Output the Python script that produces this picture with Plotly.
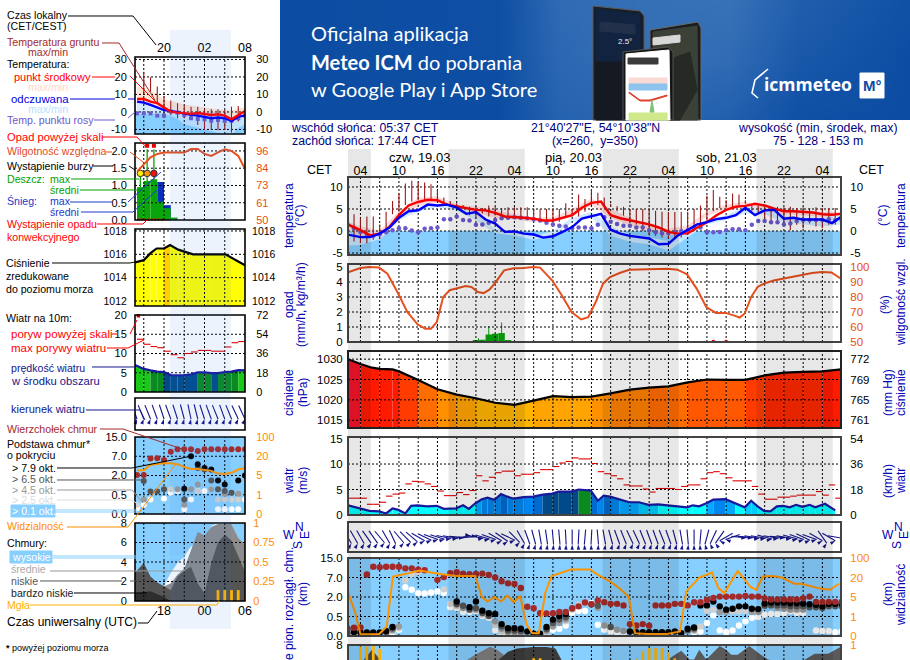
import plotly.graph_objects as go

W, H = 910, 660
FONT = "Liberation Sans"

# ------------------------ DATA: main meteogram (hours from 19.03 00:00 CET) ----------------
NIGHT = [(2.05, 5.62), (17.73, 29.62), (41.73, 53.62), (65.73, 77.62)]
HOUR_LABELS = ["04", "10", "16", "22", "04", "10", "16", "22", "04", "10", "16", "22", "04"]
HOUR_TICKS = [4, 10, 16, 22, 28, 34, 40, 46, 52, 58, 64, 70, 76]
GRID_HOURS = [4 + 3 * i for i in range(25)]

T_HOURS = [2.0] + [4 + 1.5 * i for i in range(51)]
TEMP_MID = [1.5, .2, -1, -.6, .9, 3.6, 5.8, 6.6, 7.1, 7.0, 6, 5.6, 5.3, 4.8, 4.7, 4.1, 3.3, 3.2, 3, 2.8, 2.4, 2.4,
            3, 3.6, 5.3, 6.4, 6.7, 3.6, 2.9, 2.4, 2, 1.5, .8, -.2, -.6, -.5, .8, 2, 3.6, 4.8, 5.5, 5.7, 6.2, 5.8,
            5.1, 4.5, 4.5, 4.4, 4.2, 3.8, 3.7, 3.9]
TEMP_FEEL = [-.8, -1.4, -1.4, -.6, .8, 3, 4.5, 4.7, 6, 5.8, 6, 5.3, 3.9, 4.3, 2.6, 1.7, -.2, -.1, -.6, -.8, -1.5, -1.2,
             -.2, .9, 2.8, 3.4, 3.9, .3, -.6, -1.1, -1.4, -1.7, -3, -2.9, -1, .2, 1.5, 2, 2.7, 3, 3.6, 5.3, 3.6,
             4.7, 4.8, 2.8, 3, 2.6, 2.6, 2.6, 1.8, 3.3]
B_HOURS = [2, 4, 7, 10, 13, 16, 19, 22, 25, 28, 31, 34, 37, 40, 43, 46, 49, 52, 55, 58, 61, 64, 67, 70, 73, 76, 79]
RED_MAX = [2.2, 1, .2, 4.5, 7.6, 7.9, 6, 5.5, 4.8, 3.8, 3, 3.1, 5, 7.4, 5, 3, 1.5, .5, 1.3, 4.5, 6, 6.7, 5.5, 5, 4.6, 4.3, 4.3]
RED_MIN = [.5, -1.5, -2, 2.3, 5.6, 6.4, 5, 4.2, 3, 2.6, 2, 2, 3.4, 5.8, 3, 1.2, .2, -1.2, .2, 3.4, 5, 5.7, 4.5, 3.8, 3.5, 3.2, 3.4]
BLUE_MAX = [-.3, -1, -.5, 3.4, 5, 6, 5.5, 4, .5, -.2, -1.2, 0, 3, 4.4, 1, -.8, -1.4, -2.3, .6, 2.5, 3.6, 5.6, 5.2, 3.6, 3, 3, 3.8]
BLUE_MIN = [-3.3, -3.2, -1.8, 2.5, 4.3, 5.5, 4.6, 2.4, -.5, -1, -2, -1, 2, 3, -1, -2.5, -3, -4.5, -1.5, 1.5, 2.5, 4, 3.8, 2, 1.5, 1, 1.5]
DEW_HOURS = list(range(2, 80))
DEW = [1.4, .6, -.2, -.9, -1.1, -.8, -.3, .2, .6, .6, .1, -.3, .5, .6, .8, 2.7, 2.7, 3.3, 2.5, 2.4, 1.4, 1.5, 1.9, 2.5,
       2.9, 3, 3.1, 3, 2.9, 2.7, 2.4, 1.9, 1.5, 1.2, 1, .6, .8, .8, .6, 1.4, 3.1, 2.1, 1.6, 1.2, 1.2, .8, .8, .2, -.3,
       -.5, -.5, -.3, 0, .2, .6, .8, -.3, -.3, -.2, .2, .4, .4, .2, 1.4, 2.3, 2.3, 2, 2, 1.5, 1.7, 2.3, 2.5, 2.5, 2.5,
       2.5, 2.7, 2.5, 2.5]
GROUND_HOURS = list(range(3, 79))
GROUND_MAX = [3.8, 2.9, 3.3, 3.3, 1.5, 4.4, 6.8, 8.6, 10.8, 11.4, 11.2, 11, 10.6, 9.3, 7.6, 6.8, 6.3, 5.9, 5.5, 5.8, 5.2,
              5.8, 5.5, 5.2, 5.4, 5.4, 5.4, 5.4, 5.1, 5, 5, 5, 5, 6.3, 5, 8.3, 7.3, 9.5, 8.7, 7.6, 6.2, 5.6, 5.5, 5,
              5, 5, 4.9, 4.6, 4.4, 4.3, 4.3, 4.4, 4.4, 5, 5.8, 8.0, 9.3, 7.8, 7, 8.5, 8.3, 7, 5.8, 5.8, 5.6, 5.5, 5.5,
              5.4, 5.5, 5.2, 5.4, 5.2, 5.4, 5.2, 5.2, 5.2]
GROUND_MIN = [-2.4, -2.8, -2.8, -2, -1.5, -.2, 3.8, 4.4, 5.9, 6.7, 7, 7, 7, 6.8, 5.9, 5.9, 5.5, 5.1, 3.6, 2.9, 4, 3.3,
              3.6, 3.5, 2.5, 2.9, 2.9, 2.9, 2.9, 2.5, 2.5, 2.3, 2.1, 3.3, 3.3, 3.3, 4.4, 5.9, 5.9, 5.9, 5.5, 4.5, 3.5,
              2.5, 1.5, 0, -1, -1.1, -1.5, -1.7, -1.7, -1.5, -.5, 0, 1, 2, 4.5, 5.2, 5.3, 5.3, 5.8, 6.2, 4.5, 4, 2.9,
              2.2, 2.1, 1.8, .2, 1.4, .6, 1.7, 1, .6, 1.4, 1.4]

RH_HOURS = [2.06, 4, 5.4, 6.9, 8.2, 9.9, 11.3, 12.9, 14.1, 15, 15.9, 16.9, 17.9, 18.9, 20.4, 21.3, 22.3, 23.2, 24.1,
            24.9, 26.4, 27.9, 29.4, 30.9, 32, 33.9, 35.4, 36.9, 38.4, 39.5, 40.8, 41.8, 42.9, 44.4, 45.9, 47.4, 48.9,
            50.4, 51.9, 53.4, 54.9, 56.4, 57.9, 59.4, 60.9, 62.4, 63.1, 63.9, 64.9, 65.9, 66.9, 68.4, 69.9, 71.4,
            72.9, 74.4, 75.9, 77.4, 78.9]
RH = [96.4, 99.3, 100, 99.6, 95.5, 82.2, 70, 61.8, 58.9, 58.9, 63.3, 80, 84.5, 85.6, 87.3, 86.7, 83.3, 82.6, 84.9, 88.9,
      97.8, 99.2, 99.3, 100, 99.6, 91, 81, 70, 65, 66.5, 77.8, 88.9, 93.3, 96, 98.2, 98.4, 98.7, 98.9, 98.9, 98.2, 95.1,
      85.6, 73.3, 69.4, 69.4, 67.4, 66.3, 69, 80, 86.7, 88.9, 91, 92.2, 93.8, 94.9, 96, 96.7, 96.4, 92.2]
RAIN_HOURS = [22, 23, 24, 25, 26, 27, 28]
RAIN_MEAN = [.1, .15, .5, .55, .6, .1, .03]
RAIN_MAX_HOURS = [22.4, 24.0, 26.0]
RAIN_MAX = [.25, 1.05, 1.3]
CONVECTIVE_HOURS = [59, 61]

P_HOURS = [2.06, 4, 5.8, 7, 9, 10, 13, 16, 19, 22, 25, 28, 31, 34, 37, 40, 43, 46, 49, 52, 55, 58, 61, 64, 67, 70, 73, 76, 79]
PRESSURE = [1030, 1028.8, 1027.9, 1027.6, 1027.5, 1027, 1024.9, 1022.6, 1021.3, 1020.4, 1019.3, 1018.8, 1019.8, 1020.9,
            1020.7, 1020.8, 1021.6, 1022.5, 1023, 1023.3, 1024.3, 1025, 1024.9, 1024.9, 1026, 1026.7, 1026.9, 1027, 1027.5]
P_LEVELS = [1016, 1017, 1018, 1019, 1020, 1021, 1022, 1023, 1024, 1025, 1026, 1027, 1029]
P_COLORS = ["#ffff00", "#ffd800", "#ffc400", "#ffb400", "#ffa400", "#ff9000", "#ff8000", "#ff6c00", "#ff5800",
            "#ff3c00", "#ff2800", "#ff1a00", "#f5142c"]

W_HOURS = [2.06, 4, 5.4, 6.9, 8, 9, 9.9, 11, 11.9, 12.9, 14.4, 15.9, 17, 18.9, 20, 20.9, 21.9, 22.9, 23.8, 24.9, 25.9,
           26.9, 27.9, 29.4, 30.9, 32.4, 33.9, 34.9, 36.9, 38, 39.9, 41, 41.9, 42.9, 44.4, 45.9, 47.4, 48.9, 50.4, 51.9,
           53.4, 54.9, 55.8, 56.8, 57.9, 59, 60.9, 62.4, 63.9, 64.9, 65.9, 66.9, 67.9, 68.9, 69.9, 70.9, 71.9, 72.9,
           74, 74.9, 76.4, 78]
WIND = [1.9, 1.3, .8, .7, .3, 1.3, 1, .3, 1.8, 1.9, 1.7, 1.8, 1.2, 1.3, 1.9, 1.2, 2.3, 3.1, 3.4, 3, 4.1, 3.6, 3.2, 3.5,
        3.6, 4, 4.2, 4.6, 4.6, 5, 4.8, 2.8, 3.8, 3.6, 3, 2.5, 2.5, 2, 2.1, 1.9, 1.8, 1.5, 1.9, 1.7, 2.3, 3, 3.1, 2.3,
        1.5, 2.8, 1.7, .8, .7, 1.7, 1.8, 1.5, 2, 1.6, 2, 1.5, 2.2, .9]
W_LEVELS = [0, 2.05, 2.5, 3, 3.6, 4.0, 4.88]
W_COLORS = ["#00ffff", "#00ccff", "#00a8ff", "#0086ee", "#006ad0", "#004a8a", "#0a8a1e"]
GUST_HOURS = list(range(2, 79))
GUST = [3.3, 3.3, 3.3, 2.1, 2.1, 2.5, 3.7, 4.1, 4.3, 6.1, 6.6, 6.5, 6.1, 5.6, 4.7, 3.8, 3.8, 4.4, 4, 4.8, 7.7, 6.7, 7.4,
        8.3, 8.6, 8.6, 7.7, 8, 8, 8.3, 8.9, 8.9, 9.5, 10.2, 10.5, 11.2, 11, 11, 10.1, 8.5, 8.1, 7.7, 7.1, 5.9, 5.7, 5.7,
        5.1, 4.5, 5.2, 5.2, 5.2, 5, 5.6, 5.9, 5.9, 7.1, 8.3, 8.5, 8.1, 7.3, 6.7, 6.7, 6.7, 5.6, 4.1, 3.1, 3.1, 3.5, 3.5,
        3.7, 3.9, 3.9, 3.9, 4.6, 3.9, 5.9, 3.3]
DIR_DEV = [30, 30, 30, 35, 35, 40, 30, 25, 40, 45, 50, 60, 65, 70, 72, 78, 80, 85, 100, 95, 80, 75, 70, 60, 55, 65, 45, 30,
           20, 15, 10, 8, 5, 5, 3, 0, -3, -5, -3, 5, 10, 15, 20, 22, 25, 25, 22, 20, 20, 22, 20, 15, 10, 5, 0, -5, -15,
           -25, -35, -60, -70, 85, 85, 80, 80, 75, 80, 85, 80, 75, 70, 65, 70, 60, 35, 60, 80]

# cloud heights are expressed in positions on the non-linear height scale (0 -> 0 km, 1 -> 0.5, 2 -> 2, 3 -> 7, 4 -> 15)
CB_TOP = {2: .37, 3: .42, 4: .44, 5: 3.15, 6: 3.55, 7: 3.53, 8: 3.55, 9: 3.55, 10: 3.55, 11: 3.47, 12: 3.47, 13: 3.4, 14: 3.37,
          16: 2.88, 17: 3.02, 18: 3.22, 19: 3.27, 20: 3.2, 21: 3.17, 22: 3.18, 23: 3.2, 24: 3.13, 25: 3, 26: 2.81, 27: 2.7,
          28: 2.67, 29: 2.46, 30: 1.5, 31: 1.42, 32: 1.17, 33: 1.15, 34: 1.17, 35: 1.23, 36: 1.23, 37: 1.42, 38: 1.52, 39: 1.72,
          40: 1.63, 41: 1.82, 42: 1.73, 43: 1.65, 44: 1.65, 45: 1.57, 46: .61, 47: .54, 48: .61, 49: .53, 50: 1.57, 51: 1.57,
          52: 1.57, 53: 1.65, 54: 1.65, 55: 1.57, 56: 1.73, 57: 1.73, 58: 1.85, 59: 1.95, 60: 2.02, 61: 2.02, 62: 2.02, 63: 2.02,
          64: 2.05, 65: 2.02, 66: 2.02, 67: 1.93, 68: 1.87, 69: 1.87, 70: 1.87, 71: 1.87, 72: 1.87, 73: 1.93, 74: 2.02, 75: 1.75,
          76: 1.75, 77: 1.75, 78: 1.75, 79: 1.75}
CB_BLACK = {3: .19, 4: .19, 5: .18, 6: .18, 7: .18, 8: .26, 9: .46, 19: 1.77, 21: 1.48, 22: 1.77, 23: 1.3, 24: 1.17, 25: 1.13,
            26: .61, 27: .4, 28: .4, 29: .37, 30: .23, 31: .12, 32: .12, 33: .46, 34: .84, 35: 1.02, 36: 1.13, 46: .23, 47: .19,
            48: .19, 49: .19, 50: .19, 51: .19, 52: .19, 53: .23, 54: .14, 55: .37, 56: .44, 57: 1.57, 58: 1.57, 59: 1.77,
            60: 1.52, 61: 1.35, 62: 1.4, 63: 1.52, 64: 1.52, 65: 1.4, 66: 1.38, 67: 1.67, 68: 1.72, 69: 1.72, 70: 1.72, 71: 1.68,
            72: 1.68, 73: 1.67, 74: 1.63, 75: 1.6, 76: 1.52, 77: 1.65, 78: 1.65, 79: 1.65}
CB_DARK = {2: .15, 8: .2, 9: .38, 19: 1.63, 20: 1.55, 21: 1.35, 22: 1.43, 23: 1.18, 24: 1.02, 26: .49, 27: .28, 28: .28, 29: .26,
           33: .35, 34: .67, 35: .84, 36: .96, 40: 1.63, 41: 1.55, 43: .46, 55: .3, 56: .38, 67: 1.55, 68: 1.57, 69: 1.57,
           70: 1.57, 71: 1.52, 72: 1.52, 73: 1.52, 74: 1.47, 75: 1.47, 76: 1.43, 77: 1.52, 78: 1.52, 79: 1.52}
CB_MID = {8: .15, 9: .3, 10: .49, 20: 1.43, 22: 1.35, 25: .75, 26: .37, 27: .19, 28: .19, 29: .16, 31: .09, 33: .26, 34: .49, 35: .67,
          36: .84, 37: 1.37, 41: 1.43, 42: .54, 44: .32, 45: .26, 55: .25, 56: .28, 60: 1.23, 61: 1.23, 65: 1.23, 66: 1.23, 69: 1.43,
          70: 1.4, 71: 1.35, 72: 1.35, 73: 1.35}
CB_LIGHT = {9: .25, 10: .4, 11: 2.85, 12: 3.15, 13: 3.28, 17: 2.4, 18: 1.65, 19: 1.52, 23: 1.1, 25: .58, 26: .23, 33: .2, 36: .75,
            38: 1.6, 39: 1.7, 57: .49, 58: 1.3, 59: 1.35, 62: 1.27, 63: 1.27, 64: 1.27}
CB_WHITE = {2: .1, 3: .12, 8: .12, 9: .2, 10: .32, 11: 2.5, 12: 2.37, 13: 2.2, 14: 2.18, 15: 2.23, 16: 2.28, 17: 2.2, 18: 1.48,
            19: 1.43, 20: 1.23, 21: 1.23, 22: 1.27, 23: 1.02, 24: .93, 25: .3, 26: .14, 27: .12, 33: .19, 34: .32, 35: .37, 36: .54,
            37: 1.19, 38: 1.28, 39: 1.28, 40: 1.7, 41: .58, 42: .32, 43: .23, 44: .19, 45: .14, 56: .2, 57: .23, 58: .67, 59: 1.07,
            60: .28, 61: .19, 62: .28, 63: .54, 64: .75, 65: .93, 66: .98, 67: 1.1, 68: 1.13, 69: 1.13, 70: 1.18, 71: 1.27, 72: 1.18,
            73: 1.18, 75: .28, 76: .26, 77: .26, 78: .19, 79: .23}
VIS_HOURS = [2.06, 3.2, 4, 6.9, 8.1, 9.06, 11.3, 13.2, 15.9, 18.9, 21.9, 22.9, 23.8, 24.9, 25.9, 26.9, 27.9, 28.9, 29.9, 30.8, 31.8,
             32.8, 33.8, 36.8, 39.8, 40.9, 42.8, 44.3, 45.8, 46.8, 48.8, 51.8, 53.8, 54.8, 56.8, 58.8, 59.8, 60.7, 62.8, 64.8, 65.7,
             66.7, 68.2, 69.7, 71.6, 72.7, 75.7, 77.2, 78.6]
VIS = [2.25, 1.18, .09, .09, .49, 3.05, 3.2, 3.36, 3.2, 3.08, 3.08, 2.02, 1.77, 2, 1.77, 2.07, 1.73, 2.05, .58, .14, .14, 2.2, 3.08,
       3.41, 3.41, 3.16, 2.82, 2.46, 2.02, .14, .1, .1, .23, 2.29, 3, 3.25, 2.46, 2.2, 3.33, 2.52, 2.37, 3.05, 3.08, 3, 2.68, 2.68,
       2.43, 2.37, 2.68]
CL_MID_HOURS = [19.5, 20.6, 21.9, 23.2, 24.2, 25.3, 26.3, 27]
CL_MID = [5, 6.46, 7, 7.5, 7.83, 7.5, 7, 6]
CL_LOW_HOURS = [24.5, 25.5, 27, 28.4, 31, 33, 34.4, 35.4, 36.5]
CL_LOW = [5, 6.46, 7.3, 7.65, 7.8, 7.8, 7.65, 6.4, 5]
CL_LEFT_HOURS = [3.5, 4.5, 5.8, 7.1, 8.2]
CL_LEFT = [5, 6.46, 7.5, 6.46, 5]
CL_RIGHT_HOURS = [50.5, 51.9, 54, 55.3, 56, 56.8, 57.9, 58.7, 60, 61, 61.8, 62.8, 64.6, 66.4, 67.5, 72, 73.2, 74.8, 76.9, 78.8]
CL_RIGHT = [5, 6.5, 7.4, 6.5, 6.5, 7.5, 6.5, 7, 7.9, 7.5, 7, 7, 7.9, 7, 6.5, 6, 6.5, 7.1, 7.1, 7.8]
FOG_HOURS = [4, 5, 6, 7, 31, 32, 47, 48, 49, 50, 51, 52, 53]
FOG = [.98, .98, 1.0, .95, .83, .83, .82, .92, .96, .96, .96, .9, .83]

# ------------------------ DATA: small legend meteogram (local hours, 16..32) ----------------
S_HOURS = list(range(16, 33))
S_GRID = [17, 20, 23, 26, 29]
S_TEMP = [7.4, 7.4, 5.9, 5, 2.5, .2, -.4, -.8, -1.1, -.6, -1.1, -1.7, -1.3, -2.1, -4.2, -1.7, .6]
S_FEEL = [5.9, 5.3, 4, 2.7, 1.1, .6, -.2, -1.1, -1.7, -2.1, -2.7, -3.6, -3.2, -3.6, -5.1, -2.7, -2.1]
S_RED_MAX = [14.5, 14, 12, 10.5, 7, 6.2, 5.5, 4.2, 3.6, 3.2, 2.4, 1.8, 1.5, 1.1, .8, 2, 3]
S_RED_MIN = [5, 4, 3, 2, -.5, -1.5, -2, -2.5, -3, -3, -3.5, -4, -4, -4, -5, -4, -2]
S_BLUE_MIN = [-1, -1, -1, -1, -1, -2, -4, -7, -8, -9, -10, -11, -12, -13, -13, -9, -7]
S_DEW = [-.8, -.8, -.8, -2.1, -2.1, .2, -.4, -1.7, -3.6, -4, -4.2, -5, -4.6, -5.1, -5.1, -3.6, -2]
S_G_HOURS = list(range(17, 32))
S_G_MAX = [23, 19.8, 14.5, 8.8, 6.5, 5, 4, 3, 3, 1.5, 1.5, 1.5, 1.1, 3, 3.4]
S_G_MIN = [10.7, 11.6, 5, 2.1, -1.7, -3.6, -3.6, -4.2, -7.4, -10.3, -10.3, -10.3, -10.3, -11.8, -5.5]
S_RH = [82.2, 86.7, 91.8, 94, 94.9, 94.9, 94.9, 94.9, 97.3, 97.3, 94, 92.7, 95.1, 97.1, 96, 92.7, 84]
S_RAIN_HOURS = [16.5, 17.5, 18.5, 19.5, 20.5, 21.5]
S_RAIN = [.95, 1.13, 1.18, .53, .34, .07]
S_SNOW = [0, 0, 0, 1.1, .43, 0]
S_RAIN_MAX_HOURS = [16.5, 17.5, 18.5]
S_RAIN_MAX = [1.35, 2.05, 2.05]
S_STORM_COLORS = ["#ffee00", "#ff9900", "#ee1111"]
S_CONVECTIVE = [16.2, 16.7, 17.2, 17.7, 18.2, 18.7, 19.2, 19.7]
S_P_HOURS = [15.7, 17, 18, 18.9, 20, 20.9, 22.1, 24.3, 26.7, 29.1, 32]
S_PRESSURE = [1015.3, 1015.5, 1016.1, 1016.5, 1016.5, 1016.8, 1016.4, 1016, 1016, 1016, 1015.06]
S_WIND = [7, 6, 5.6, 5.3, 5.2, 4.4, 4.3, 4.3, 4.6, 5.1, 5.1, 4.9, 4.9, 5.2, 5.3, 5.7, 5.6]
S_GUST = [13.7, 12.4, 11.8, 11.5, 10.6, 9.7, 8.9, 10, 10.4, 10.8, 10.8, 10.6, 10.6, 11.7, 12.8, 13.1]
S_DIR = [20, 22, 22, 20, 18, 20, 18, 15, 12, 14, 18, 20, 22, 20, 22, 25, 25]
S_CB_TOP = {16: 2.03, 17: 2.03, 18: 2.88, 19: 2.9, 20: 2.81, 21: 3.24, 22: 3.36, 23: 3.36, 24: 3.36, 25: 3.27, 26: 3.36, 27: 3.36,
            28: 3.36, 29: 3.36, 30: 3.36, 31: 3.36, 32: 3.36}
S_CB_BLACK = {23: 1.31, 24: 3, 25: 2.59, 26: 2.39, 27: 2.31, 28: 1.74, 29: 1.53, 31: 1.74, 32: 2}
S_CB_DARK = {17: 1.71, 18: 1.17, 19: 1.17, 20: 1.28, 23: .75, 25: 2.39, 26: 2.31, 27: 1.74, 28: 1.28, 29: 1.2, 30: 1.1}
S_CB_MID = {17: .75, 22: 1.28, 24: 1.28, 25: 1.53, 27: 1.28, 29: 1.05, 31: 1.05, 23: .48}
S_CB_LIGHT = {16: .48, 21: 1.28, 25: 1.2, 28: .75, 29: .75, 30: .75, 31: .75}
S_CB_WHITE = {16: .3, 17: .48, 18: .75, 20: .79, 21: 1.1, 22: 1.2, 23: .25, 24: .75, 25: 1.2, 26: 1.2, 27: 1.28, 28: .25, 29: .25, 30: .25,
              31: .25, 32: .75}
S_VIS = [2.27, 2.27, 2.56, 2.61, 2.64, 2.64, 2.59, 2.44, 2.34, 2.34, 2.27, 2.24, 2.1, 2.08, 2.14, 2.31, 2.39]
S_HIGH = [0, 0, 0, 0, 1.5, 2.9, 3.9, 4.6, 5.6, 6, 6.1, 7.7, 8, 8, 7.9, 6.5, 5.8]
S_MID = [0, 0, 0, 0, 1.5, 1.8, 2.7, 3.3, 5.2, 7.1, 6.7, 7.6, 7.9, 7.9, 7.9, 6.5, 5.8]
S_LOW = [2.9, 3.9, 2.5, 1.9, 1.5, 1.1, 2.5, 3.1, 3.5, 1.8, .8, 3.9, 6, 6.8, 6.2, 4.5, 3]
S_VLOW = [.8, .9, 1, .7, .4, 0, 0, 0, 0, 0, 0, 0, 0, 0, 0, 0, 0]
S_FOG_HOURS = [28, 29, 30, 31]
S_FOG = [.14, .14, .14, .14]

# ------------------------ helpers ----------------
fig = go.Figure()
layout = {}
annots, shapes = [], []
SKY = "#87cfff"
PINK = "rgba(255,205,205,0.75)"
PALE = "rgba(205,232,255,0.9)"
n_axis = [0]


def px(x):
    return x / W


def py(y):
    return 1 - y / H


def text(x, y, s, color="#000", size=12, anchor="left", angle=0, bg=None, va="middle", family=FONT):
    annots.append(dict(xref="paper", yref="paper", x=px(x), y=py(y), text=s, showarrow=False, xanchor=anchor, yanchor=va,
                       textangle=angle, bgcolor=bg, borderpad=0, font=dict(family=family, size=size, color=color)))


def link(color, *pts, width=1):
    d = "M" + " L".join(f"{px(a):.5f},{py(b):.5f}" for a, b in pts)
    shapes.append(dict(type="path", path=d, xref="paper", yref="paper", line=dict(color=color, width=width), layer="above"))


def poly(color, *pts, linecolor=None):
    d = "M" + " L".join(f"{px(a):.5f},{py(b):.5f}" for a, b in pts) + " Z"
    shapes.append(dict(type="path", path=d, xref="paper", yref="paper", fillcolor=color,
                       line=dict(color=linecolor or color, width=1), layer="above"))


def panel(box, xr, yr, ylt, ylb, rr=None, rlt=None, rlb=None, rcolor="#000", lpad=4, rpad=5, xtop=None, xbot=None, frame=1.6,
          framecol="#222", open_bottom=False, tick=11, toplabel=4):
    """box=(left,top,right,bottom) in pixels. Returns the axis ids of the left and the right scale."""
    n_axis[0] += 1
    n = n_axis[0]
    m = 100 + n
    l, t, r, b = box
    xa = dict(domain=[px(l), px(r)], range=xr, anchor=f"y{n}", showgrid=False, zeroline=False, showline=False,
              tickfont=dict(family=FONT, size=12.5, color="#000"))
    if xtop or xbot:
        tv, tt, side = (xtop + ("top",)) if xtop else (xbot + ("bottom",))
        xa.update(side=side, tickmode="array", tickvals=tv, ticktext=tt, ticks="outside", ticklen=1, tickcolor="rgba(0,0,0,0)")
        xa.update(anchor="free", position=py(t + toplabel) if side == "top" else py(b - 3))
    else:
        xa.update(showticklabels=False, ticks="")
    layout[f"xaxis{n}"] = xa
    layout[f"yaxis{n}"] = dict(domain=[py(b), py(t)], range=yr, anchor=f"x{n}", showgrid=False, zeroline=False, showline=False,
                               tickmode="array", tickvals=ylt, ticktext=ylb, ticks="outside", ticklen=lpad,
                               tickcolor="rgba(0,0,0,0)", tickfont=dict(family=FONT, size=tick, color="#000"))
    if rr is None:
        rr, rlt = yr, ylt
    layout[f"yaxis{m}"] = dict(domain=[py(b), py(t)], range=rr, anchor=f"x{n}", overlaying=f"y{n}", side="right", showgrid=False,
                               zeroline=False, showline=False, tickmode="array", tickvals=rlt, ticktext=rlb, ticks="outside",
                               ticklen=rpad, tickcolor="rgba(0,0,0,0)", tickfont=dict(family=FONT, size=tick, color=rcolor))
    fig.add_trace(go.Scatter(x=[], y=[], xaxis=f"x{n}", yaxis=f"y{m}", hoverinfo="skip"))
    if open_bottom:
        link(framecol, (l, b + 2), (l, t), (r, t), (r, b + 2), width=frame)
    else:
        shapes.append(dict(type="rect", xref="paper", yref="paper", x0=px(l), x1=px(r), y0=py(b), y1=py(t),
                           line=dict(color=framecol, width=frame), layer="above"))
    return f"x{n}", f"y{n}", f"y{m}"


def grid(ax, xs, ys, xr, yr):
    gx, gy = [], []
    for v in xs:
        gx += [v, v, None]
        gy += [yr[0], yr[1], None]
    for v in ys:
        gx += [xr[0], xr[1], None]
        gy += [v, v, None]
    fig.add_trace(go.Scatter(x=gx, y=gy, xaxis=ax[0], yaxis=ax[1], mode="lines", hoverinfo="skip",
                             line=dict(color="#000", width=1, dash="2px,2px")))


def line(ax, x, y, color, width=2, right=False, shape="linear"):
    fig.add_trace(go.Scatter(x=x, y=y, xaxis=ax[0], yaxis=ax[2] if right else ax[1], mode="lines", hoverinfo="skip",
                             line=dict(color=color, width=width, shape=shape)))


def area(ax, x, y, color, base):
    fig.add_trace(go.Scatter(x=list(x) + [x[-1], x[0]], y=list(y) + [base, base], xaxis=ax[0], yaxis=ax[1], mode="lines",
                             fill="toself", fillcolor=color, line=dict(width=0), hoverinfo="skip"))


def band(ax, x, hi, lo, color):
    fig.add_trace(go.Scatter(x=list(x) + list(x)[::-1], y=list(hi) + list(lo)[::-1], xaxis=ax[0], yaxis=ax[1], mode="lines",
                             fill="toself", fillcolor=color, line=dict(width=0), hoverinfo="skip"))


def dots(ax, d, color, size, symbol="circle"):
    ks = sorted(d)
    fig.add_trace(go.Scatter(x=ks, y=[d[k] for k in ks], xaxis=ax[0], yaxis=ax[1], mode="markers", hoverinfo="skip",
                             marker=dict(color=color, size=size, symbol=symbol, line=dict(width=0))))


def level_color(v, levels, colors):
    c = colors[0]
    for lv, col in zip(levels, colors):
        if v >= lv:
            c = col
    return c


def strips(ax, x, y, base, colorfn):
    for i in range(len(x) - 1):
        fig.add_trace(go.Scatter(x=[x[i], x[i + 1], x[i + 1], x[i], x[i]], y=[y[i], y[i + 1], base, base, y[i]], xaxis=ax[0], yaxis=ax[1],
                                 mode="lines", fill="toself", fillcolor=colorfn((y[i] + y[i + 1]) / 2), line=dict(width=0),
                                 hoverinfo="skip"))


def steps(ax, x, y, color, width=1.2):
    gx, gy = [], []
    for a, v in zip(x, y):
        gx += [a, a + 1, None]
        gy += [v, v, None]
    fig.add_trace(go.Scatter(x=gx, y=gy, xaxis=ax[0], yaxis=ax[1], mode="lines", hoverinfo="skip", line=dict(color=color, width=width)))


def vbars(ax, x, lo, hi, color, width=1.2):
    gx, gy = [], []
    for a, u, v in zip(x, lo, hi):
        gx += [a, a, None]
        gy += [u, v, None]
    fig.add_trace(go.Scatter(x=gx, y=gy, xaxis=ax[0], yaxis=ax[1], mode="lines", hoverinfo="skip", line=dict(color=color, width=width)))


def arrows(ax, hours, dev, pxh, yc, length, center=True, size=5.5, color="#14148c"):
    import math
    lx, ly, hx, hy, ang = [], [], [], [], []
    for t, d in zip(hours, dev):
        vx, vy = math.sin(math.radians(d)), -math.cos(math.radians(d))
        if center:
            hx0, hy0 = vx * length / 2, vy * length / 2
        else:
            hx0, hy0 = 0, 0
        head = (t + hx0 / pxh, yc + hy0)
        tail = (head[0] - vx * length / pxh, head[1] - vy * length)
        lx += [tail[0], head[0], None]
        ly += [tail[1], head[1], None]
        hx.append(head[0])
        hy.append(head[1])
        ang.append(math.degrees(math.atan2(vx, -vy)))
    fig.add_trace(go.Scatter(x=lx, y=ly, xaxis=ax[0], yaxis=ax[1], mode="lines", cliponaxis=False, hoverinfo="skip",
                             line=dict(color=color, width=1.1)))
    fig.add_trace(go.Scatter(x=hx, y=hy, xaxis=ax[0], yaxis=ax[1], mode="markers", cliponaxis=False, hoverinfo="skip",
                             marker=dict(symbol="arrow", angle=ang, size=size, color=color, line=dict(width=0))))


# ------------------------ banner ----------------
n_axis[0] += 1
bn = n_axis[0]
layout[f"xaxis{bn}"] = dict(domain=[px(280), 1], range=[280, 910], visible=False, anchor=f"y{bn}", fixedrange=True)
layout[f"yaxis{bn}"] = dict(domain=[py(120), 1], range=[120, 0], visible=False, anchor=f"x{bn}", fixedrange=True)
BANNER_X = [280, 500, 560, 640, 730, 800, 910]
BANNER_Y = [0, 60, 120]
BANNER_Z = [[0, .04, .7, .8, .85, .4, .08], [0, .04, .62, .8, .7, .25, 0], [0, 0, .5, .6, .4, .05, 0]]
fig.add_trace(go.Heatmap(x=BANNER_X, y=BANNER_Y, z=BANNER_Z, xaxis=f"x{bn}", yaxis=f"y{bn}", zsmooth="best", showscale=False, hoverinfo="skip",
                         zmin=0, zmax=1, colorscale=[[0, "#0c4da3"], [1, "#3f78bb"]]))
text(310, 33, "Oficjalna aplikacja", "#fff", 20, family="Lato")
text(310, 62, "<b>Meteo ICM</b> do pobrania", "#fff", 20, family="Lato")
text(310, 89, "w Google Play i App Store", "#fff", 20, family="Lato")
# phones
poly("#1a1d22", (593, 6), (640, 11), (644, 16), (644, 120), (593, 120), linecolor="#5a5a5a")
poly("#12233f", (596, 9), (640, 14), (641, 62), (596, 62))
poly("#151a22", (596, 62), (641, 62), (641, 120), (596, 120))
poly("#22304a", (600, 22), (635, 25), (635, 34), (600, 31))
poly("#1a1d22", (650, 30), (698, 22), (701, 28), (701, 120), (650, 120), linecolor="#6a6a6a")
poly("#3c4138", (653, 32), (697, 26), (698, 120), (653, 120))
poly("#252a24", (668, 60), (690, 52), (697, 90), (680, 120), (668, 120))
poly("#d8d8d8", (653, 38), (680, 35), (680, 42), (653, 45))
poly("#141414", (623, 52), (668, 47), (673, 52), (673, 120), (623, 120), linecolor="#555")
poly("#ffffff", (626, 54), (669, 50), (670, 120), (626, 120))
poly("#3a3a3a", (628, 58), (658, 58), (658, 64), (628, 64))
poly("#f8d9d4", (629, 78), (667, 78), (667, 84), (629, 84))
poly("#8cc4ee", (629, 84), (667, 84), (667, 90), (629, 90))
poly("#cfe88a", (629, 113), (667, 113), (667, 120), (629, 120))
poly("#e0402a", (629, 92), (640, 100), (650, 100), (667, 95), (667, 96), (650, 101), (640, 101), (629, 93))
poly("#7dc47a", (650, 112), (652, 100), (654, 112))
text(617, 41, "2.5°", "#e8eef5", 8)
# logo
link("#ffffff", (758, 98), (752, 93), (755, 80), (768, 69), width=1.6)
text(763, 84, "<b>icmmeteo</b>", "#fff", 17.5, family="Open Sans")
poly("#ffffff", (860, 73), (884, 73), (884, 98), (860, 98))
text(862, 85, "<b>M°</b>", "#0c4da3", 15)

# ------------------------ main panels ----------------
MX = (348, 841)
XR = [2.06, 78.9]

# temperature
r = [-5.45, 12.27]
ax = panel((MX[0], 177, MX[1], 255), XR, r, [10, 5, 0, -5], ["10", "5", "0", "-5"], rlb=["10", "5", "0", "-5"], rpad=6, lpad=2,
           xtop=(HOUR_TICKS, HOUR_LABELS), frame=2, framecol="#444", tick=11.5, toplabel=4)
main_x = ax[0]
area(ax, [XR[0], XR[1]], [0, 0], SKY, r[0])
band(ax, B_HOURS, RED_MAX, RED_MIN, PINK)
band(ax, B_HOURS, BLUE_MAX, BLUE_MIN, PALE)
grid(ax, GRID_HOURS, [10, 5, 0, -5], XR, r)
vbars(ax, GROUND_HOURS, GROUND_MIN, GROUND_MAX, "#a01818", 1.1)
fig.add_trace(go.Scatter(x=DEW_HOURS, y=DEW, xaxis=ax[0], yaxis=ax[1], mode="markers", hoverinfo="skip",
                         marker=dict(color="#6a5acd", size=4.5, line=dict(width=0))))
line(ax, T_HOURS, TEMP_MID, "#ff0000", 2.4)
line(ax, T_HOURS, TEMP_FEEL, "#0000ff", 2.4)

# precipitation + humidity
r = [0, 5.2]
rr = [50, 102]
ax = panel((MX[0], 264, MX[1], 342), XR, r, [5, 4, 3, 2, 1, 0], ["5", "4", "3", "2", "1", "0"], rr, [100, 90, 80, 70, 60, 50],
           ["100", "90", "80", "70", "60", "50"], "#e8500a", rpad=6, lpad=2, frame=2, framecol="#444", tick=11.5)
fig.add_trace(go.Bar(x=RAIN_HOURS, y=RAIN_MEAN, xaxis=ax[0], yaxis=ax[1], marker=dict(color="#0aa50a", line=dict(width=0)), width=1.0, hoverinfo="skip"))
vbars(ax, RAIN_MAX_HOURS, [0, 0, 0], RAIN_MAX, "#0aa50a", 1)
grid(ax, GRID_HOURS, [4, 3, 2, 1], XR, r)
line(ax, RH_HOURS, RH, "#e8501e", 2, right=True)
fig.add_trace(go.Scatter(x=CONVECTIVE_HOURS, y=[.04, .04], xaxis=ax[0], yaxis=ax[1], mode="markers", hoverinfo="skip", cliponaxis=False,
                         marker=dict(color="#e00000", size=3, symbol="square", line=dict(width=0))))

# pressure
r = [1013.1, 1032]
ax = panel((MX[0], 351, MX[1], 428), XR, r, [1030, 1025, 1020, 1015], ["1030", "1025", "1020", "1015"],
           rlb=["772", "769", "765", "761"], rpad=6, lpad=2, frame=2, framecol="#222", tick=11.5)
strips(ax, P_HOURS, PRESSURE, r[0], lambda v: level_color(v, P_LEVELS, P_COLORS))
grid(ax, GRID_HOURS, [1030, 1025, 1020, 1015], XR, r)
line(ax, P_HOURS, PRESSURE, "#000", 2.2)

# wind
r = [0, 15.3]
rr = [0, 55.08]
ax = panel((MX[0], 437, MX[1], 515), XR, r, [15, 10, 5, 0], ["15", "10", "5", "0"], rr, [54, 36, 18, 0], ["54", "36", "18", "0"], rpad=6, lpad=2,
           frame=2, framecol="#444", tick=11.5)
strips(ax, W_HOURS, WIND, 0, lambda v: level_color(v, W_LEVELS, W_COLORS))
grid(ax, GRID_HOURS, [10, 5], XR, r)
line(ax, W_HOURS, WIND, "#1a1aa0", 2.2)
steps(ax, GUST_HOURS, GUST, "#e00000", 1.1)

# direction
ax = panel((MX[0], 522, MX[1], 552), XR, [0, 30], [], [], rlb=[], frame=2, framecol="#444")
arrows(ax, GUST_HOURS, DIR_DEV, 6.42, 15, 15)

# cloud base
r = [0, 4]
ax = panel((MX[0], 558, MX[1], 636), XR, r, [4, 3, 2, 1, 0], ["15.0", "7.0", "2.0", "0.5", "0.0"], r, [4, 3, 2, 1, 0],
           ["100", "20", "5", "1", "0"], "#ff8c00", rpad=6, lpad=2, frame=2, framecol="#444", tick=11.5)
area(ax, [XR[0], XR[1]], [4, 4], SKY, 0)
grid(ax, GRID_HOURS, [3, 2, 1], XR, r)
for col, d in (("#ffffff", CB_WHITE), ("#d0d0d0", CB_LIGHT), ("#9a9a9a", CB_MID), ("#555555", CB_DARK), ("#000000", CB_BLACK)):
    dots(ax, d, col, 6.4)
dots(ax, CB_TOP, "#a52a2a", 6.4)
line(ax, VIS_HOURS, VIS, "#ff9600", 2)

# clouds (cut by the page edge)
r = [6.46, 8]
ax = panel((MX[0], 645, MX[1], 660), XR, r, [8], ["8"], [.8075, 1], [1], ["1"], "#ff8c00", rpad=6, lpad=2, frame=2, framecol="#444", open_bottom=True, tick=11.5)
area(ax, [XR[0], XR[1]], [8, 8], SKY, 6.46)
area(ax, CL_MID_HOURS, CL_MID, "#7e7e7e", 5)
area(ax, CL_LOW_HOURS, CL_LOW, "#3c3c3c", 5)
area(ax, CL_LEFT_HOURS, CL_LEFT, "#484848", 5)
area(ax, CL_RIGHT_HOURS, CL_RIGHT, "#5a5a5a", 5)
grid(ax, GRID_HOURS, [], XR, r)
fig.add_trace(go.Bar(x=FOG_HOURS, y=FOG, xaxis=ax[0], yaxis=ax[2], width=.42, marker=dict(color="#ffb400", line=dict(width=0)), hoverinfo="skip"))

# ------------------------ small panels ----------------
SX = (135, 245)
SR = [15.7, 32.0]

r = [-12.6, 31.4]
ax = panel((SX[0], 57, SX[1], 134), SR, r, [30, 20, 10, 0, -10], ["30", "20", "10", "0", "-10"], rlb=["30", "20", "10", "0", "-10"], lpad=5, rpad=8,
           xtop=([20, 26, 31.99], ["20", "02", "08"]), frame=1.6, framecol="#000", tick=11, toplabel=1)
small_x = ax[0]
area(ax, SR, [0, 0], SKY, r[0])
band(ax, S_HOURS, S_RED_MAX, S_RED_MIN, "rgba(255,225,210,0.9)")
band(ax, S_HOURS, S_FEEL, S_BLUE_MIN, "rgba(205,232,255,0.85)")
grid(ax, S_GRID, [30, 20, 10, 0, -10], SR, r)
vbars(ax, S_G_HOURS, S_G_MIN, S_G_MAX, "#a01818", 1.1)
fig.add_trace(go.Scatter(x=S_HOURS, y=S_DEW, xaxis=ax[0], yaxis=ax[1], mode="markers", hoverinfo="skip",
                         marker=dict(color="#6a5acd", size=4, symbol="square", line=dict(width=0))))
line(ax, S_HOURS, S_FEEL, "#0000ff", 2.4)
line(ax, S_HOURS, S_TEMP, "#ff0000", 2.4)

r = [0, 2.23]
rr = [50, 101.3]
ax = panel((SX[0], 143, SX[1], 220), SR, r, [2, 1.5, 1, .5, 0], ["2.0", "1.5", "1.0", "0.5", "0.0"], rr, [96, 84.5, 73, 61.5, 50],
           ["96", "84", "73", "61", "50"], "#e8500a", lpad=5, rpad=8, frame=1.6, framecol="#000", tick=11)
fig.add_trace(go.Bar(x=S_RAIN_HOURS, y=S_SNOW, xaxis=ax[0], yaxis=ax[1], width=1, marker=dict(color="#0b30c0", line=dict(width=0)), hoverinfo="skip"))
fig.add_trace(go.Bar(x=S_RAIN_HOURS, y=S_RAIN, xaxis=ax[0], yaxis=ax[1], width=1, marker=dict(color="#0aa50a", line=dict(width=0)), hoverinfo="skip"))
grid(ax, S_GRID, [2, 1.5, 1, .5], SR, r)
vbars(ax, S_RAIN_MAX_HOURS, [0, 0, 0], S_RAIN_MAX, "#0aa50a", 1.3)
line(ax, S_HOURS, S_RH, "#e8501e", 2, right=True)
fig.add_trace(go.Scatter(x=S_RAIN_MAX_HOURS[1:], y=[2.15, 2.15], xaxis=ax[0], yaxis=ax[1], mode="markers", hoverinfo="skip", cliponaxis=False,
                         marker=dict(color="#e80000", size=4, symbol="square", line=dict(width=0))))
fig.add_trace(go.Scatter(x=S_RAIN_MAX_HOURS, y=[1.35, 1.35, 1.35], xaxis=ax[0], yaxis=ax[1], mode="markers", hoverinfo="skip",
                         marker=dict(color=S_STORM_COLORS, size=6.5, line=dict(width=1, color="#333"))))
fig.add_trace(go.Scatter(x=S_CONVECTIVE, y=[.015] * len(S_CONVECTIVE), xaxis=ax[0], yaxis=ax[1], mode="markers", hoverinfo="skip", cliponaxis=False,
                         marker=dict(color="#e80000", size=2, symbol="square", line=dict(width=0))))

r = [1011.57, 1018.17]
ax = panel((SX[0], 229, SX[1], 306), SR, r, [1018, 1016, 1014, 1012], ["1018", "1016", "1014", "1012"], rlb=["1018", "1016", "1014", "1012"],
           lpad=5, rpad=4, frame=1.6, framecol="#000", tick=10.5)
strips(ax, S_P_HOURS, S_PRESSURE, r[0], lambda v: "#ffd000" if v > 1016.62 else "#ffff00")
grid(ax, S_GRID, [1018, 1016, 1014, 1012], SR, r)
line(ax, S_P_HOURS, S_PRESSURE, "#000", 2.2)

r = [0, 20]
rr = [0, 72]
ax = panel((SX[0], 315, SX[1], 392), SR, r, [20, 15, 10, 5, 0], ["20", "15", "10", "5", "0"], rr, [72, 54, 36, 18, 0], ["72", "54", "36", "18", "0"],
           lpad=5, rpad=8, frame=1.6, framecol="#000", tick=11)
strips(ax, [15.7] + S_HOURS[1:], S_WIND, 0, lambda v: "#19c819" if v >= 5.55 else ("#0a8a20" if v >= 4.95 else "#004a8a"))
grid(ax, S_GRID, [15, 10, 5], SR, r)
line(ax, [15.7] + S_HOURS[1:], S_WIND, "#1a1aa0", 2.2)
steps(ax, S_HOURS[:-1], S_GUST, "#e00000", 1.1)
fig.add_trace(go.Scatter(x=[16.2], y=[19.8], xaxis=ax[0], yaxis=ax[1], mode="markers", hoverinfo="skip", cliponaxis=False,
                         marker=dict(color="#e80000", size=3.5, symbol="square", line=dict(width=0))))

ax = panel((SX[0], 398, SX[1], 430), SR, [0, 32], [], [], rlb=[], frame=1.6, framecol="#000")
arrows(ax, S_HOURS, S_DIR, 6.75, 11, 15, center=False)

r = [0, 4]
ax = panel((SX[0], 437, SX[1], 514), SR, r, [4, 3, 2, 1, 0], ["15.0", "7.0", "2.0", "0.5", "0.0"], r, [4, 3, 2, 1, 0],
           ["100", "20", "5", "1", "0"], "#ff8c00", lpad=5, rpad=8, frame=1.6, framecol="#000", tick=11)
area(ax, SR, [4, 4], SKY, 0)
grid(ax, S_GRID, [3, 2, 1], SR, r)
for col, d in (("#ffffff", S_CB_WHITE), ("#d0d0d0", S_CB_LIGHT), ("#9a9a9a", S_CB_MID), ("#555555", S_CB_DARK), ("#000000", S_CB_BLACK)):
    dots(ax, d, col, 6)
dots(ax, S_CB_TOP, "#a52a2a", 6)
line(ax, S_HOURS, S_VIS, "#ff9600", 2)

r = [0, 8]
rr = [0, 1]
ax = panel((SX[0], 523, SX[1], 601), SR, r, [8, 6, 4, 2, 0], ["8", "6", "4", "2", "0"], rr, [1, .75, .5, .25, 0], ["1", "0.75", "0.5", "0.25", "0"],
           "#ff8c00", lpad=5, rpad=5, xbot=([20, 26, 31.99], ["18", "00", "06"]), frame=1.6, framecol="#000", tick=11)
area(ax, SR, [8, 8], SKY, 0)
area(ax, S_HOURS, S_HIGH, "#ffffff", 0)
area(ax, S_HOURS, S_MID, "#8c8c8c", 0)
area(ax, [15.7] + S_HOURS[1:], S_LOW, "#555555", 0)
area(ax, [15.7] + S_HOURS[1:], S_VLOW, "#2e2e2e", 0)
grid(ax, S_GRID, [6, 4, 2], SR, r)
fig.add_trace(go.Bar(x=S_FOG_HOURS, y=S_FOG, xaxis=ax[0], yaxis=ax[2], width=.42, marker=dict(color="#ffb400", line=dict(width=0)), hoverinfo="skip"))

# ------------------------ overlays: night bands ----------------
for a, b in NIGHT:
    shapes.append(dict(type="rect", xref=main_x, yref="paper", x0=a, x1=b, y0=0, y1=py(149), fillcolor="rgba(0,0,0,0.095)", line=dict(width=0), layer="above"))
shapes.append(dict(type="rect", xref=small_x, yref="paper", x0=20.87, x1=29.9, y0=py(629), y1=py(30), fillcolor="rgba(40,120,235,0.09)", line=dict(width=0), layer="above"))

# ------------------------ header and axis titles ----------------
NAVY = "#000080"
BLUE = "#0000b4"
text(290, 128, "wschód słońca: 05:37 CET", NAVY, 12.3)
text(291, 141, "zachód słońca: 17:44 CET", NAVY, 12.3)
text(595, 128, "21°40'27\"E, 54°10'38\"N", NAVY, 12.3, anchor="center")
text(595, 141, "(x=260,  y=350)", NAVY, 12.3, anchor="center")
text(818, 128, "wysokość (min, środek, max)", NAVY, 12.3, anchor="center")
text(818, 141, "75 - 128 - 153 m", NAVY, 12.3, anchor="center")
text(419, 157, "czw, 19.03", "#000", 13, anchor="center")
text(573, 157, "pią, 20.03", "#000", 13, anchor="center")
text(726, 157, "sob, 21.03", "#000", 13, anchor="center")
text(319, 170, "CET", "#000", 12.5, anchor="center")
text(871, 170, "CET", "#000", 12.5, anchor="center")


def vt(x, y, s, va="middle"):
    text(x, y, s, BLUE, anchor="center", angle=-90, va=va)


vt(289, 216, "temperatura"); vt(300, 216, "(°C)"); vt(883, 216, "(°C)"); vt(901, 216, "temperatura")
vt(289, 305, "opad"); vt(301, 305, "(mm/h, kg/m³/h)"); vt(885, 305, "(%)"); vt(901, 302, "wilgotność wzgl.")
vt(289, 393, "ciśnienie"); vt(303, 393, "(hPa)"); vt(888, 393, "(mm Hg)"); vt(901, 393, "ciśnienie")
vt(289, 481, "wiatr"); vt(303, 481, "(m/s)"); vt(888, 481, "(km/h)"); vt(901, 481, "wiatr")
vt(289, 604, "e pion. rozciągł. chm."); vt(303, 594, "(km)"); vt(888, 594, "(km)"); vt(901, 595, "widzialność")
for off in (0, 599):
    text(289 + off, 535, "W", BLUE, 12, anchor="center")
    text(299 + off, 527, "N", BLUE, 12, anchor="center")
    text(305 + off, 535, "E", BLUE, 12, anchor="center", angle=-90)
    text(298 + off, 545, "S", BLUE, 12, anchor="center", angle=-90)

# ------------------------ left legend ----------------
DR = "#a52a2a"
RD = "#ff0000"
OR = "#e34b1e"
GR = "#00a000"
BL = "#1a3ac8"
NV = "#15158c"
PU = "#6a5acd"
ORG = "#ff8c00"
for item in [
    (6, 15, "Czas lokalny", "#000"), (6, 26, "(CET/CEST)", "#000"),
    (6, 42, "Temperatura gruntu", DR), (27, 52, "max/min", DR), (6, 64, "Temperatura:", "#000"),
    (13, 77, "punkt środkowy", RD, 11), (27, 87, "max/min", "#ffd8c8"), (10, 99, "odczuwana", "#0000e0", 11.4),
    (27, 109, "max/min", "#b8e0ff"), (6, 120, "Temp. punktu rosy", PU), (6, 137, "Opad powyżej skali", RD, 11.2),
    (6, 151, "Wilgotność względna", OR), (6, 166, "Wystąpienie burzy", "#000"), (6, 179, "Deszcz:", GR), (49, 179, "max", GR),
    (49, 190, "średni", GR), (6, 201, "Śnieg:", BL), (49, 201, "max", BL), (49, 212, "średni", BL),
    (6, 224, "Wystąpienie opadu", RD), (6, 237, "konwekcyjnego", RD), (5, 263, "Ciśnienie", "#000"), (5, 276, "zredukowane", "#000"),
    (5, 289, "do poziomu morza", "#000"), (5, 318, "Wiatr na 10m:", "#000"), (10, 334, "poryw powyżej skali", RD, 11.5),
    (10, 348, "max porywy wiatru", RD, 11.5), (10, 368, "prędkość wiatru", NV), (10, 381, "w środku obszaru", NV, 11.2),
    (10, 409, "kierunek wiatru", NV, 11), (6, 429, "Wierzchołek chmur", DR), (6, 444, "Podstawa chmur*", "#000"), (6, 455, "o pokryciu", "#000"),
    (11, 468, "> 7.9 okt.", "#000"), (11, 479, "> 6.5 okt.", "#555"), (11, 490, "> 4.5 okt.", "#999"), (11, 500, "> 2.5 okt.", "#ddd"),
    (6, 526, "Widzialność", ORG), (6, 543, "Chmury:", "#000"), (10, 569, "średnie", "#aaa"), (10, 581, "niskie", "#555"),
    (10, 593, "bardzo niskie", "#222"), (6, 605, "Mgła", "#ffb000"), (6, 622, "Czas uniwersalny (UTC)", "#000", 12),
]:
    text(item[0], item[1], item[2], item[3], item[4] if len(item) > 4 else 10.6)
poly(SKY, (11, 505), (55, 505), (55, 517), (11, 517))
text(11, 511, "> 0.1 okt.", "#fff", 10.6)
poly(SKY, (10, 551), (52, 551), (52, 563), (10, 563))
text(11, 557, "wysokie", "#fff", 10.6)
text(5, 648, "<b>*</b> powyżej poziomu morza", "#000", 9)

link("#000", (68, 16), (133, 16), (156, 45))
link(DR, (102, 43), (119, 43), (155, 100))
link(RD, (92, 77), (115, 77)); link(RD, (130, 76), (157, 103))
link("#0000e0", (70, 99), (115, 99)); link("#0000e0", (128, 99), (135, 99))
link(PU, (94, 120), (115, 120)); link(PU, (128, 118), (135, 112))
link(RD, (102, 137), (137, 137), (146, 147))
link(OR, (106, 152), (112, 152)); link(OR, (130, 152), (143, 162))
link("#000", (93, 166), (113, 166)); link("#000", (129, 166), (135, 170))
link(GR, (71, 179), (139, 179)); link(GR, (80, 190), (143, 190))
link(BL, (70, 202), (112, 202)); link(BL, (128, 202), (161, 172))
link(BL, (81, 212), (133, 212), (157, 190))
link(RD, (97, 224), (143, 224), (147, 220))
link("#000", (52, 263), (130, 263), (135, 262))
link(RD, (112, 334), (117, 334)); link(RD, (130, 334), (137, 320))
link(RD, (107, 348), (128, 348), (144, 340))
link(NV, (92, 367), (135, 367))
link(NV, (86, 410), (140, 410), (145, 420))
link(DR, (100, 429), (123, 429), (185, 450))
link("#000", (57, 468), (132, 468), (192, 456))
link("#555", (57, 480), (143, 480))
link("#999", (57, 490), (132, 490), (143, 503))
link("#ddd", (57, 500), (132, 500), (143, 508))
link(SKY, (55, 510), (137, 510)); link(SKY, (55, 512), (137, 512))
link(ORG, (67, 527), (128, 527), (175, 465))
link(SKY, (53, 556), (185, 556)); link(SKY, (53, 558), (185, 558))
link("#999", (50, 571), (185, 571))
link("#555", (40, 581), (122, 581)); link("#555", (130, 581), (147, 581))
link("#000", (74, 593), (147, 593))
link("#ffb000", (30, 605), (217, 605), (219, 601))
link("#000", (138, 623), (148, 623), (157, 611))

fig.update_layout(**layout)
fig.update_layout(width=W, height=H, autosize=False, margin=dict(l=0, r=0, t=0, b=0, autoexpand=False), paper_bgcolor="#fff", plot_bgcolor="rgba(0,0,0,0)",
                  showlegend=False, barmode="overlay", annotations=annots, shapes=shapes, font=dict(family=FONT, size=12))
fig.write_html("out.html", config=dict(displayModeBar=False),
               post_script="document.body.style.margin='0';document.body.style.overflow='hidden';")
